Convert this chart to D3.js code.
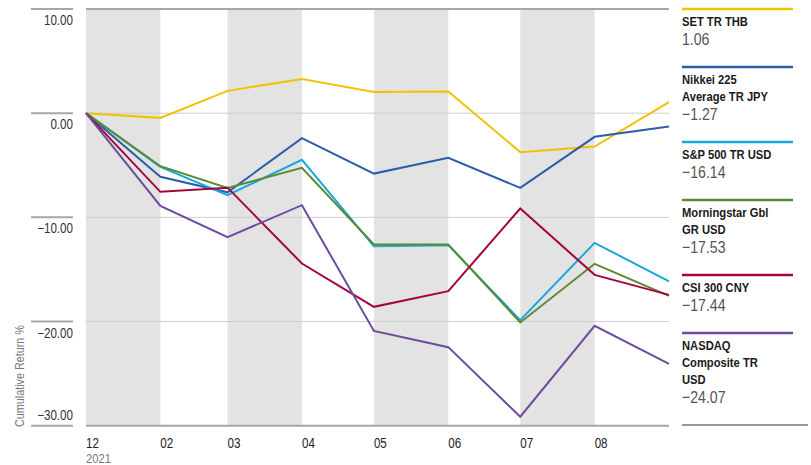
<!DOCTYPE html>
<html><head><meta charset="utf-8">
<script src="https://cdn.jsdelivr.net/npm/d3@7"></script>
<style>
body{margin:0;background:#fff;}
svg text{font-family:"Liberation Sans",Arial,sans-serif;}
</style></head>
<body><svg id="c" width="811" height="465"></svg>
<script>
const dates = ["2021-01-01","2021-02-01","2021-03-01","2021-04-01","2021-05-01","2021-06-01","2021-07-01","2021-08-01","2021-09-01"];
const tickLabels = ["12","02","03","04","05","06","07","08"];
const yTicks = [10,0,-10,-20,-30];
const seriesNames = ["SET TR THB","Nikkei 225 Average TR JPY","S&P 500 TR USD","Morningstar Gbl GR USD","CSI 300 CNY","NASDAQ Composite TR USD"];
const legendLines = [["SET TR THB"],["Nikkei 225","Average TR JPY"],["S&P 500 TR USD"],["Morningstar Gbl","GR USD"],["CSI 300 CNY"],["NASDAQ","Composite TR","USD"]];
const finalValues = [1.06,-1.27,-16.14,-17.53,-17.44,-24.07];
const colors = ["#f2c200","#2c5ea8","#16a8df","#5a8a32","#a6053a","#6d4c9f"];
const setTR   = [0,-0.45,2.14,3.29,2.04,2.08,-3.74,-3.2,1.06];
const nikkei  = [0,-6.1,-7.6,-2.4,-5.8,-4.29,-7.17,-2.27,-1.27];
const sp500   = [0,-5.15,-7.87,-4.48,-12.78,-12.67,-19.87,-12.45,-16.14];
const msGbl   = [0,-5.09,-7.17,-5.25,-12.6,-12.6,-20.09,-14.46,-17.53];
const csi300  = [0,-7.55,-7.15,-14.43,-18.59,-17.08,-9.15,-15.52,-17.44];
const nasdaq  = [0,-8.9,-11.9,-8.83,-20.9,-22.46,-29.14,-20.41,-24.07];
const seriesValues = [setTR,nikkei,sp500,msGbl,csi300,nasdaq];

const svg = d3.select("#c");
const SX = 0.83;
function txt(x0, y0, s, opts) {
  const t = svg.append("text").attr("transform", `translate(${x0},${y0}) scale(${SX},1)`).text(s);
  Object.entries(opts || {}).forEach(([k, v]) => t.attr(k, v));
  return t;
}
const fmt = v => d3.format(".2f")(v).replace("-", "\u2212");
const parse = d3.timeParse("%Y-%m-%d");
const D = dates.map(parse);
const x = d3.scaleTime().domain([D[0], D[D.length-1]]).range([86, 669]);
const y = d3.scaleLinear().domain([-30, 10]).range([425.7, 9]);

// bands
const g = svg.append("g");
for (let i = 0; i < D.length - 1; i += 2) {
  g.append("rect").attr("x", x(D[i])).attr("y", y(10)).attr("width", x(D[i+1]) - x(D[i])).attr("height", y(-30) - y(10)).attr("fill", "#e3e3e3");
}
// gridlines
yTicks.forEach(t => {
  const edge = (t === 10 || t === -30);
  g.append("line").attr("x1", 86).attr("x2", 669).attr("y1", y(t)).attr("y2", y(t))
    .attr("stroke", edge ? "#a6a6a6" : "#cfcfcf").attr("stroke-width", edge ? 2 : 1);
  g.append("line").attr("x1", 31).attr("x2", 73).attr("y1", y(t)).attr("y2", y(t))
    .attr("stroke", "#a6a6a6").attr("stroke-width", 2);
  const ty = t === -30 ? y(t) - 6 : y(t) + 16;
  txt(73, ty, fmt(t), {"text-anchor": "end", "font-size": 14, "fill": "#333"});
});
// y title
svg.append("text").attr("transform", `translate(24,427) rotate(-90) scale(${SX},1)`).attr("font-size", 13).attr("fill", "#777").text("Cumulative Return %");
// x ticks
tickLabels.forEach((lab, i) => {
  txt(x(D[i]), 448, lab, {"font-size": 14, "fill": "#222"});
});
txt(x(D[0]), 463, "2021", {"font-size": 13.5, "fill": "#777"});

// lines
const line = d3.line().x((d, i) => x(D[i])).y(d => y(d));
seriesValues.forEach((vals, k) => {
  svg.append("path").attr("d", line(vals)).attr("fill", "none").attr("stroke", colors[k]).attr("stroke-width", 2).attr("stroke-linejoin", "miter");
});

// legend
let ly = 9;
const lx = 682, lw = 111;
legendLines.forEach((lines, k) => {
  svg.append("line").attr("x1", lx).attr("x2", lx + lw).attr("y1", ly).attr("y2", ly).attr("stroke", colors[k]).attr("stroke-width", 2.5);
  let by = ly + 16.5;
  lines.forEach((t, j) => {
    txt(lx, by, t, {"font-size": 13.5, "font-weight": "bold", "fill": "#1a1a1a"});
    by += 17;
  });
  by += 2.5;
  txt(lx, by, fmt(finalValues[k]), {"font-size": 17, "fill": "#555"});
  ly = by + 22;
});
svg.append("line").attr("x1", lx).attr("x2", 808).attr("y1", 425).attr("y2", 425).attr("stroke", "#777").attr("stroke-width", 1.5);
</script></body></html>
